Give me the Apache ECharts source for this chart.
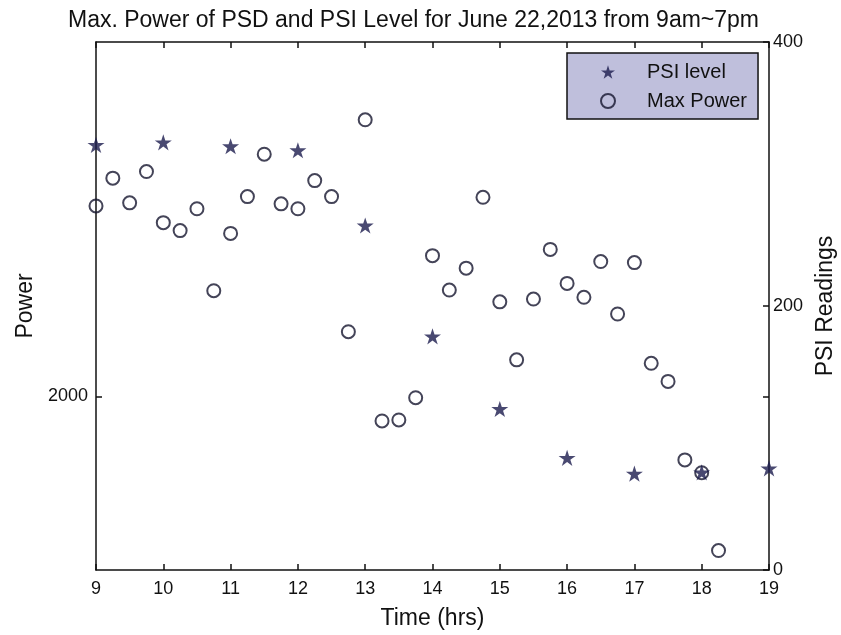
<!DOCTYPE html>
<html>
<head>
<meta charset="utf-8">
<script src="https://cdn.jsdelivr.net/npm/echarts@6/dist/echarts.min.js"></script>
<style>
html,body{margin:0;padding:0;background:#fff;}
#chart{width:841px;height:635px;}
</style>
</head>
<body>
<div id="chart"></div>
<script>
// ---- data ----
const powerTimes = [9, 9.25, 9.5, 9.75, 10, 10.25, 10.5, 10.75, 11, 11.25, 11.5, 11.75,
  12, 12.25, 12.5, 12.75, 13, 13.25, 13.5, 13.75, 14, 14.25, 14.5, 14.75,
  15, 15.25, 15.5, 15.75, 16, 16.25, 16.5, 16.75, 17, 17.25, 17.5, 17.75, 18, 18.25];
const maxPower = [2548, 2628, 2557, 2647, 2500, 2477, 2540, 2304, 2469, 2575, 2697, 2554,
  2540, 2621, 2575, 2186, 2796, 1929, 1932, 1996, 2405, 2306, 2369, 2573,
  2272, 2105, 2280, 2423, 2325, 2285, 2388, 2237, 2385, 2095, 2043, 1817, 1780, 1556];
const psiTimes = [9, 10, 11, 12, 13, 14, 15, 16, 17, 18, 19];
const psiLevel = [322, 324, 321, 318, 261, 177, 122, 85, 73, 74, 77];
const xTicks = [9, 10, 11, 12, 13, 14, 15, 16, 17, 18, 19];
const powerTickLabels = [2000];
const psiTickLabels = [0, 200, 400];

const FONT = 'Liberation Sans, Arial, Helvetica, sans-serif';
const STAR = 'path://M50 0L61.2 34.5L97.6 34.5L68.2 55.9L79.4 90.5L50 69.1L20.6 90.5L31.8 55.9L2.4 34.5L38.8 34.5Z';
const axisLine = { show: true, lineStyle: { color: '#111', width: 1.5 } };
const tickStyle = { color: '#111', width: 1.5 };
const plain = v => String(v);

const chart = echarts.init(document.getElementById('chart'), null, { renderer: 'canvas' });
chart.setOption({
  backgroundColor: '#ffffff',
  animation: false,
  textStyle: { fontFamily: FONT },
  title: {
    text: 'Max. Power of PSD and PSI Level for June 22,2013 from 9am~7pm',
    left: 63, top: 4,
    textStyle: { fontFamily: FONT, fontSize: 23, fontWeight: 'normal', color: '#111' }
  },
  legend: {
    orient: 'vertical',
    left: 567, top: 53,
    data: ['PSI level', 'Max Power'],
    itemWidth: 14, itemHeight: 14, itemGap: 9,
    padding: [9, 11, 8, 33],
    backgroundColor: '#bfbfdc',
    borderColor: '#111', borderWidth: 1.5, borderRadius: 0,
    textStyle: { fontFamily: FONT, fontSize: 20, lineHeight: 20, color: '#111', padding: [0, 0, 0, 27] }
  },
  grid: { left: 96, right: 72, top: 42, bottom: 65, containLabel: false, outerBoundsMode: 'none' },
  xAxis: [
    {
      type: 'value', position: 'bottom', min: 9, max: 19, interval: 1,
      axisLine: axisLine,
      axisTick: { show: true, inside: true, length: 6, lineStyle: tickStyle },
      axisLabel: { fontFamily: FONT, fontSize: 18, color: '#111', margin: 10,
        customValues: xTicks, formatter: plain },
      splitLine: { show: false },
      name: 'Time (hrs)', nameLocation: 'middle', nameGap: 37,
      nameTextStyle: { fontFamily: FONT, fontSize: 23, color: '#111' }
    },
    {
      type: 'value', position: 'top', min: 9, max: 19, interval: 1,
      axisLine: axisLine,
      axisTick: { show: true, inside: true, length: 6, lineStyle: tickStyle },
      axisLabel: { show: false },
      splitLine: { show: false }
    }
  ],
  yAxis: [
    {
      type: 'value', position: 'left', min: 1500, max: 3020,
      axisLine: axisLine,
      axisTick: { show: true, inside: true, length: 6, lineStyle: tickStyle, customValues: powerTickLabels },
      axisLabel: { fontFamily: FONT, fontSize: 18, color: '#111', margin: 8,
        customValues: powerTickLabels, formatter: plain },
      splitLine: { show: false },
      name: 'Power', nameLocation: 'middle', nameGap: 59, nameRotate: 90,
      nameTextStyle: { fontFamily: FONT, fontSize: 23, color: '#111' }
    },
    {
      type: 'value', position: 'right', min: 0, max: 400, interval: 200,
      axisLine: axisLine,
      axisTick: { show: true, inside: true, length: 6, lineStyle: tickStyle },
      axisLabel: { fontFamily: FONT, fontSize: 18, color: '#111', margin: 4,
        customValues: psiTickLabels, formatter: plain },
      splitLine: { show: false },
      name: 'PSI Readings', nameLocation: 'middle', nameGap: 45, nameRotate: 90,
      nameTextStyle: { fontFamily: FONT, fontSize: 23, color: '#111' }
    },
    {
      type: 'value', position: 'right', min: 1500, max: 3020,
      axisLine: { show: false },
      axisTick: { show: true, inside: true, length: 6, lineStyle: tickStyle, customValues: powerTickLabels },
      axisLabel: { show: false },
      splitLine: { show: false }
    }
  ],
  series: [
    {
      name: 'Max Power', type: 'scatter', xAxisIndex: 0, yAxisIndex: 0,
      symbol: 'circle', symbolSize: 13,
      itemStyle: { color: 'rgba(255,255,255,0)', borderColor: '#15152e', borderWidth: 2 },
      data: powerTimes.map((t, i) => [t, maxPower[i]])
    },
    {
      name: 'PSI level', type: 'scatter', xAxisIndex: 0, yAxisIndex: 1,
      symbol: STAR, symbolSize: 17, symbolKeepAspect: true,
      itemStyle: { color: '#1c1c4e' },
      data: psiTimes.map((t, i) => [t, psiLevel[i]])
    }
  ]
});
</script>
</body>
</html>
